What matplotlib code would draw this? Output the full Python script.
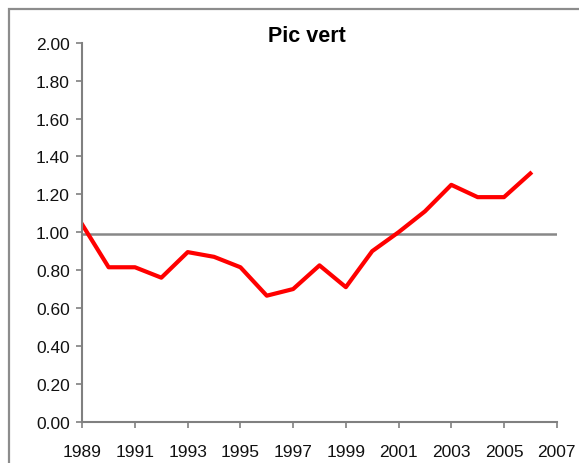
import matplotlib
matplotlib.use("Agg")
import matplotlib.pyplot as plt
from matplotlib.patches import Rectangle

# data
years = list(range(1989, 2007))
values = [1.04, 0.815, 0.815, 0.76, 0.895, 0.87, 0.815, 0.665, 0.70, 0.825,
          0.71, 0.90, 1.00, 1.11, 1.25, 1.185, 1.185, 1.31]
ref_level = 0.99
xticks = list(range(1989, 2008, 2))
yticks = [i * 0.2 for i in range(11)]

plt.rcParams['font.family'] = ['Liberation Sans', 'DejaVu Sans']

fig = plt.figure(figsize=(5.79, 4.64), dpi=100)
ax = fig.add_axes([0.1421, 0.089, 0.8194, 0.8168])

# outer chart frame (cropped by the image edge)
fig.patches.append(Rectangle((9 / 579, -0.1), 1.2, (464 - 10) / 464 + 0.1,
                             transform=fig.transFigure, fill=False,
                             edgecolor='#8c8c8c', linewidth=1.6))

ax.plot([1989, 2007], [ref_level, ref_level], color='#888888', linewidth=1.8,
        solid_capstyle='butt')
ax.plot(years, values, color='#ff0000', linewidth=3.0, solid_joinstyle='round')

ax.set_xlim(1989, 2007)
ax.set_ylim(0, 2.0)
ax.set_xticks(xticks)
ax.set_yticks(yticks)
ax.set_yticklabels([f"{v:.2f}" for v in yticks])

for side in ['top', 'right']:
    ax.spines[side].set_visible(False)
for side in ['left', 'bottom']:
    ax.spines[side].set_color('#808080')
    ax.spines[side].set_linewidth(1.5)

ax.tick_params(axis='both', colors='#808080', labelcolor='#111111', labelsize=12.5,
               length=4, width=1.2, direction='out')
ax.tick_params(axis='y', pad=5)
ax.tick_params(axis='x', pad=12)

fig.text(306.7 / 579, (464 - 42) / 464, 'Pic vert', ha='center', va='baseline',
         fontsize=15.5, fontweight='bold')

fig.savefig('out.png', dpi=100)
